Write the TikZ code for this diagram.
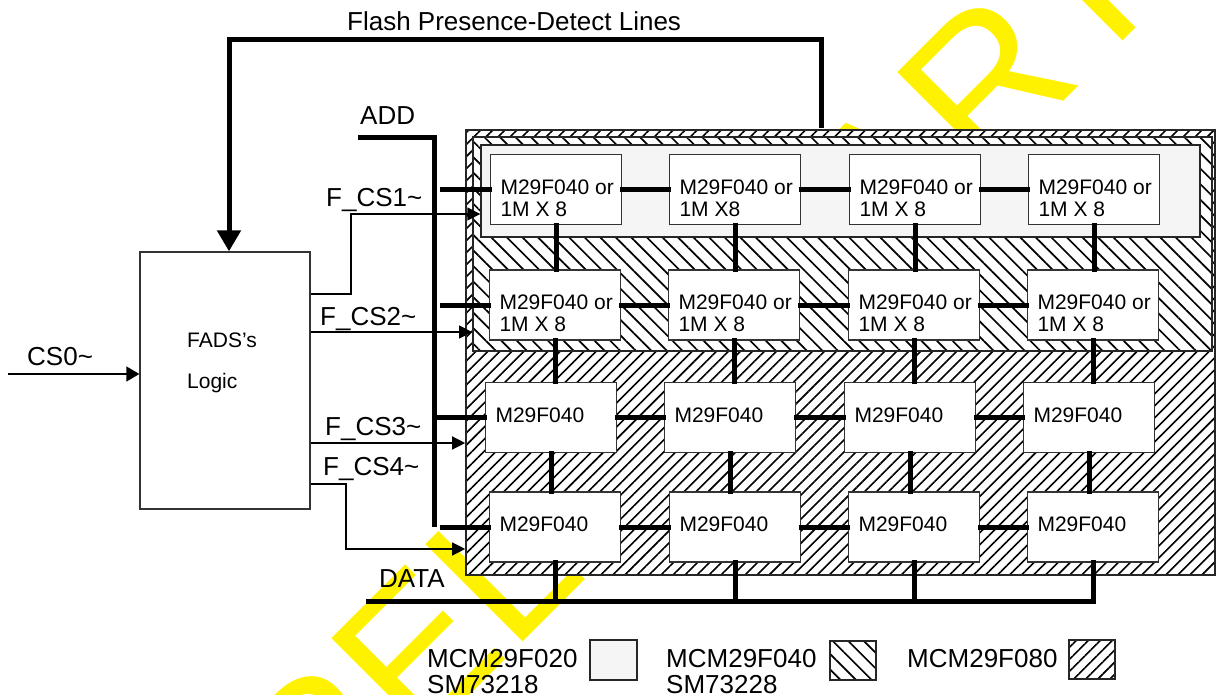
\documentclass[tikz,border=0pt]{standalone}
\usepackage{fontspec}
\setmainfont{Liberation Sans}
\usetikzlibrary{arrows.meta,patterns.meta,calc}
\definecolor{lightfill}{HTML}{F5F5F5}
\begin{document}
\begin{tikzpicture}[x=1pt,y=-1pt,
  bus/.style={line width=5pt, line cap=rect, line join=miter},
  sig/.style={line width=1.3pt, -{Triangle[length=13pt,width=13pt]}},
  chip/.style={draw=black!80, line width=1.3pt, fill=white, minimum width=131pt, minimum height=70pt, inner sep=0pt},
  ctext/.style={font=\fontsize{21}{22}\selectfont, inner sep=0pt, anchor=base west},
  lbl/.style={font=\fontsize{26}{30}\selectfont, inner sep=0pt, anchor=base west},
  region/.style={draw=black!85, line width=1.3pt, inner sep=0pt},
  hatchF/.style={pattern={Lines[angle=45,distance=8.5pt,line width=1.6pt]}},
  hatchB/.style={pattern={Lines[angle=-45,distance=11pt,line width=1.7pt]}},
  wm/.style={text=yellow, font=\fontsize{200}{200}\selectfont, inner sep=0pt, rotate=45, anchor=base west}
]
\useasboundingbox (0,0) rectangle (1216,695);
\clip (0,0) rectangle (1216,695);

% watermark
\node[wm] (wmark) at (220.7,943.9) {PRELIMINARY};

% regions
\node[region, preaction={fill=white}, hatchF, minimum width=749pt, minimum height=445pt] (r080) at (840.5,352.5) {};
\node[region, preaction={fill=white}, hatchB, minimum width=739pt, minimum height=214pt] (r040) at (842.5,244) {};
\node[region, fill=lightfill, minimum width=719pt, minimum height=92pt] (r020) at (840.5,191) {};

% chips
\node[chip] (a1) at (556,189.5) {};
\node[chip] (a2) at (735,189.5) {};
\node[chip] (a3) at (915,189.5) {};
\node[chip] (a4) at (1094,189.5) {};
\node[chip] (b1) at (555,305) {};
\node[chip] (b2) at (734,305) {};
\node[chip] (b3) at (914,305) {};
\node[chip] (b4) at (1093,305) {};
\node[chip] (c1) at (551,417.5) {};
\node[chip] (c2) at (730,417.5) {};
\node[chip] (c3) at (910,417.5) {};
\node[chip] (c4) at (1089,417.5) {};
\node[chip] (d1) at (555,527) {};
\node[chip] (d2) at (735,527) {};
\node[chip] (d3) at (914,527) {};
\node[chip] (d4) at (1093,527) {};

% chip texts
\node[ctext] (ta1) at ($(a1.north west)+(10.5,40.5)$) {\vtop{\hbox{M29F040 or}\hbox{1M X 8}}};
\node[ctext] (ta2) at ($(a2.north west)+(10.5,40.5)$) {\vtop{\hbox{M29F040 or}\hbox{1M X8}}};
\node[ctext] (ta3) at ($(a3.north west)+(10.5,40.5)$) {\vtop{\hbox{M29F040 or}\hbox{1M X 8}}};
\node[ctext] (ta4) at ($(a4.north west)+(10.5,40.5)$) {\vtop{\hbox{M29F040 or}\hbox{1M X 8}}};
\node[ctext] (tb1) at ($(b1.north west)+(10.5,40.5)$) {\vtop{\hbox{M29F040 or}\hbox{1M X 8}}};
\node[ctext] (tb2) at ($(b2.north west)+(10.5,40.5)$) {\vtop{\hbox{M29F040 or}\hbox{1M X 8}}};
\node[ctext] (tb3) at ($(b3.north west)+(10.5,40.5)$) {\vtop{\hbox{M29F040 or}\hbox{1M X 8}}};
\node[ctext] (tb4) at ($(b4.north west)+(10.5,40.5)$) {\vtop{\hbox{M29F040 or}\hbox{1M X 8}}};
\foreach \n in {c1,c2,c3,c4,d1,d2,d3,d4}
  \node[ctext] (t\n) at ($(\n.north west)+(10.5,40.5)$) {M29F040};

% horizontal links
\foreach \r in {a,b,c,d}{
  \draw[bus] (\r1.east) -- (\r2.west);
  \draw[bus] (\r2.east) -- (\r3.west);
  \draw[bus] (\r3.east) -- (\r4.west);
}
% vertical links
\foreach \k in {1,2,3,4}{
  \draw[bus] (a\k.south) -- (a\k.south |- b\k.north);
  \draw[bus] (b\k.south) -- (b\k.south |- c\k.north);
  \draw[bus] (c\k.south) -- (c\k.south |- d\k.north);
}

% ADD bus
\coordinate (addL) at (360.5,137.5);
\coordinate (addC) at (434,137.5);
\coordinate (addB) at (434,524.5);
\coordinate (tap) at (442,0);
\draw[bus] (addL) -- (addC) -- (addB);
\draw[bus] (tap |- a1.west) -- (a1.west);
\draw[bus] (tap |- b1.west) -- (b1.west);
\draw[bus] (addC |- c1.west) -- (c1.west);
\draw[bus] (tap |- d1.west) -- (d1.west);
\node[lbl] (addlbl) at (360,125) {ADD};

% DATA bus
\coordinate (dataL) at (368.5,601);
\draw[bus] (dataL) -- (dataL -| d4.south);
\foreach \k in {1,2,3,4}
  \draw[bus] (d\k.south) -- (d\k.south |- dataL);
\node[lbl] (datalbl) at (379,587) {DATA};

% FADS logic
\node[draw=black!80, line width=1.3pt, minimum width=170pt, minimum height=257pt, inner sep=0pt] (fads) at (225,380.5) {};
\node[font=\fontsize{21}{22}\selectfont, inner sep=0pt, anchor=base west] (fadst1) at (187,347) {FADS’s};
\node[font=\fontsize{21}{22}\selectfont, inner sep=0pt, anchor=base west] (fadst2) at (187,388) {Logic};

% flash presence detect
\coordinate (fl1) at (821,128);
\coordinate (fl2) at (229,39.5);
\draw[bus, line cap=butt, -{Triangle[length=21pt,width=23pt]}] (fl1) |- (fl2) -- (fl2 |- fads.north);
\node[lbl] (flashlbl) at (347,31) {Flash Presence-Detect Lines};

% CS0
\coordinate (cs0) at (8,374);
\draw[sig, -{Triangle[length=13pt,width=15pt]}] (cs0) -- (fads.west |- cs0);
\node[lbl] (cs0lbl) at (27,365) {CS0\textasciitilde};

% chip selects
\coordinate (k1a) at (351,294);
\coordinate (k1b) at (351,214);
\draw[sig] (fads.east |- k1a) -- (k1a) -- (k1b) -- (r020.west |- k1b);
\node[lbl] (cs1lbl) at (326,207) {F\_CS1\textasciitilde};

\coordinate (k2) at (400,332);
\draw[sig] (fads.east |- k2) -- (r040.west |- k2);
\node[lbl] (cs2lbl) at (320,325) {F\_CS2\textasciitilde};

\coordinate (k3) at (400,443);
\draw[sig] (fads.east |- k3) -- (r080.west |- k3);
\node[lbl] (cs3lbl) at (325,435) {F\_CS3\textasciitilde};

\coordinate (k4a) at (346,484);
\coordinate (k4b) at (346,549);
\draw[sig] (fads.east |- k4a) -- (k4a) -- (k4b) -- (r080.west |- k4b);
\node[lbl] (cs4lbl) at (323,475) {F\_CS4\textasciitilde};

% legend
\node[lbl] (lg1a) at (427,667) {MCM29F020};
\node[lbl] (lg1b) at (427,693) {SM73218};
\node[region, fill=lightfill, minimum width=47pt, minimum height=40pt] (lg020) at (613.5,660) {};
\node[lbl] (lg2a) at (666,667) {MCM29F040};
\node[lbl] (lg2b) at (666,693) {SM73228};
\node[region, preaction={fill=white}, hatchB, minimum width=46pt, minimum height=39pt] (lg040) at (853,660.5) {};
\node[lbl] (lg3a) at (907,667) {MCM29F080};
\node[region, preaction={fill=white}, hatchF, minimum width=46pt, minimum height=39pt] (lg080) at (1092,659.5) {};
\end{tikzpicture}
\end{document}
